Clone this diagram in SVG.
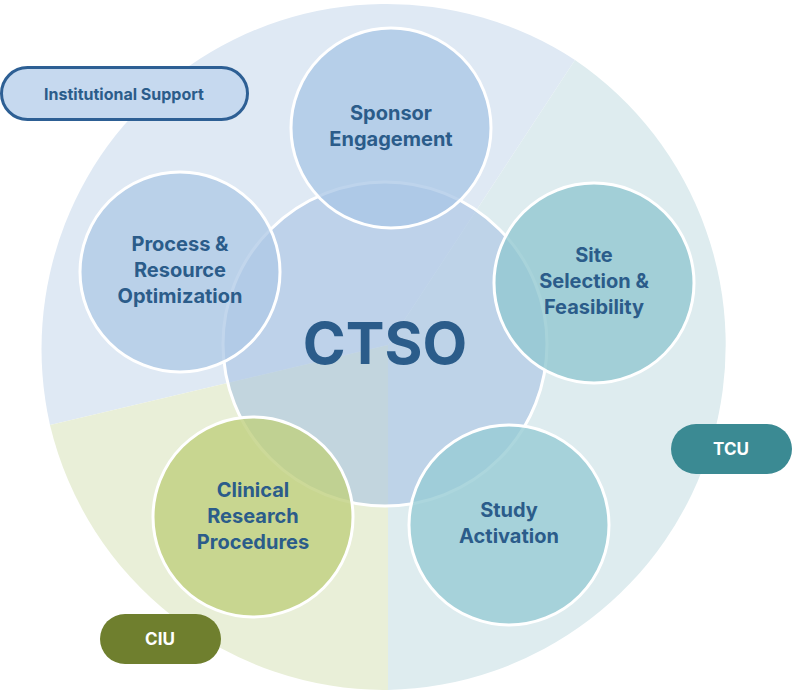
<svg xmlns="http://www.w3.org/2000/svg" width="792" height="690" viewBox="0 0 792 690">
<style>
.t{font-family:"Inter","Liberation Sans",sans-serif;font-weight:700;fill:#2b5c8a;text-anchor:middle}
.n{stroke:#fff;stroke-width:3}
</style>
<rect width="792" height="690" fill="#fff"/>
<g id="sectors">
<path d="M388,345 L50,425 A345,345 0 0 1 575,60 Z" fill="#dfe9f4"/>
<path d="M388,345 L575,60 A345,345 0 0 1 388,690 Z" fill="#deecef"/>
<path d="M388,345 L388,690 A345,345 0 0 1 50,425 Z" fill="#e9efd8"/>
</g>
<g id="ctso"><circle cx="385" cy="344" r="162" class="n" fill="#a8c3e3" fill-opacity="0.6"/><text x="385" y="364" class="t" font-size="58">CTSO</text></g>
<g id="sponsor"><circle cx="391" cy="128" r="100" class="n" fill="#a8c6e6" fill-opacity="0.75"/><text x="391" y="120" class="t" font-size="20">Sponsor</text><text x="391" y="146" class="t" font-size="20">Engagement</text></g>
<g id="process"><circle cx="180" cy="272" r="100" class="n" fill="#aec8e6" fill-opacity="0.75"/><text x="180" y="251" class="t" font-size="20">Process &amp;</text><text x="180" y="277" class="t" font-size="20">Resource</text><text x="180" y="303" class="t" font-size="20">Optimization</text></g>
<g id="site"><circle cx="594" cy="283" r="100" class="n" fill="#92c8d1" fill-opacity="0.8"/><text x="594" y="262" class="t" font-size="20">Site</text><text x="594" y="288" class="t" font-size="20">Selection &amp;</text><text x="594" y="314" class="t" font-size="20">Feasibility</text></g>
<g id="clinical"><circle cx="253" cy="517" r="100" class="n" fill="#bfd07e" fill-opacity="0.8"/><text x="253" y="497" class="t" font-size="20">Clinical</text><text x="253" y="523" class="t" font-size="20">Research</text><text x="253" y="549" class="t" font-size="20">Procedures</text></g>
<g id="study"><circle cx="509" cy="525" r="100" class="n" fill="#97ccd5" fill-opacity="0.8"/><text x="509" y="517" class="t" font-size="20">Study</text><text x="509" y="543" class="t" font-size="20">Activation</text></g>
<g id="inst"><rect x="1.5" y="67.5" width="246" height="52" rx="26" fill="#c6d9ef" stroke="#2d5f94" stroke-width="3"/><text x="124" y="100" class="t" font-size="16">Institutional Support</text></g>
<g id="tcu"><rect x="671" y="424" width="121" height="50" rx="25" fill="#3b8a93"/><text x="731" y="455" class="t" font-size="17" fill="#fff" style="fill:#fff">TCU</text></g>
<g id="ciu"><rect x="100" y="614" width="121" height="50" rx="25" fill="#6f7f2e"/><text x="160" y="645" class="t" font-size="17" style="fill:#fff">CIU</text></g>
<g id="connectors"/>
</svg>
